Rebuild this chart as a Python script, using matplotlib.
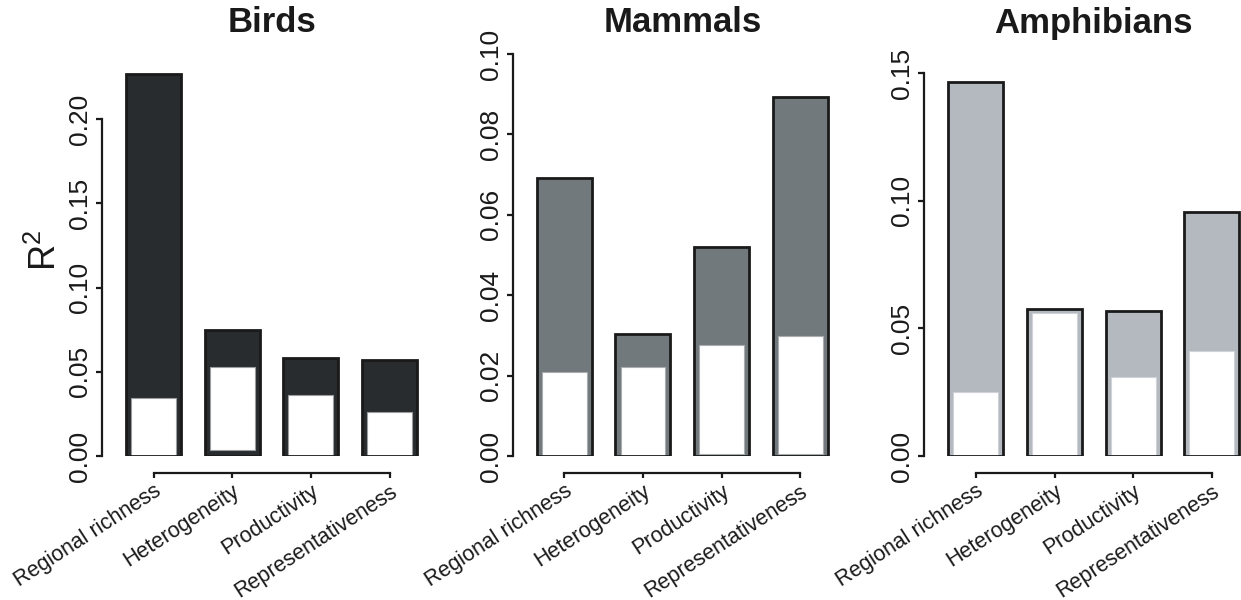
import matplotlib
matplotlib.use('Agg')
import matplotlib.pyplot as plt
from matplotlib.transforms import blended_transform_factory
import numpy as np

plt.rcParams['font.family'] = ['Liberation Sans', 'DejaVu Sans']
plt.rcParams['mathtext.fontset'] = 'custom'
plt.rcParams['mathtext.rm'] = 'Liberation Sans'

# ---- data ----
categories = ['Regional richness', 'Heterogeneity', 'Productivity', 'Representativeness']
titles = ['Birds', 'Mammals', 'Amphibians']

birds_total = [0.227, 0.0745, 0.058, 0.057]
birds_unique = [0.0342, 0.053, 0.0362, 0.0263]
birds_unique_base = [0.0, 0.0035, 0.0, 0.0]

mammals_total = [0.0692, 0.0303, 0.0521, 0.0892]
mammals_unique = [0.021, 0.0222, 0.0276, 0.0299]
mammals_unique_base = [0.0, 0.0, 0.0004, 0.0004]

amphibians_total = [0.1465, 0.0577, 0.057, 0.0958]
amphibians_unique = [0.0252, 0.056, 0.0308, 0.0412]
amphibians_unique_base = [0.0, 0.0, 0.0, 0.0]

birds_yticks = [0.00, 0.05, 0.10, 0.15, 0.20]
mammals_yticks = [0.00, 0.02, 0.04, 0.06, 0.08, 0.10]
amphibians_yticks = [0.00, 0.05, 0.10, 0.15]

# ---- styling ----
fills = ['#282c2f', '#72797c', '#b4b9c0']
inner_edges = ['#9a9c9e', '#a9adaf', '#cfd3d8']
ymaxes = [0.2386, 0.100, 0.1576]
axis_left_px = [102, 512.7, 924.3]
W, H = 1241, 600
ink = '#1a1a1a'

fig = plt.figure(figsize=(W / 100, H / 100), dpi=100)

panels = [
    (birds_total, birds_unique, birds_unique_base, birds_yticks),
    (mammals_total, mammals_unique, mammals_unique_base, mammals_yticks),
    (amphibians_total, amphibians_unique, amphibians_unique_base, amphibians_yticks),
]

for i, (total, uniq, base, yticks) in enumerate(panels):
    ax = fig.add_axes([axis_left_px[i] / W, (H - 456) / H, 319 / W, 402 / H])
    x = np.arange(len(categories))
    total = np.array(total)
    uniq = np.array(uniq)
    base = np.array(base)
    ax.bar(x, total, width=0.70, color=fills[i], edgecolor='none', zorder=1)
    ax.bar(x, uniq - base, bottom=base, width=0.57, color='white',
           edgecolor=inner_edges[i], linewidth=0.8, zorder=2)
    ax.bar(x, total, width=0.70, fill=False, edgecolor=ink, linewidth=2.0,
           zorder=3)

    ax.set_xlim(-0.656, 3.4)
    ax.set_ylim(0, ymaxes[i])

    for s in ['top', 'right']:
        ax.spines[s].set_visible(False)
    ax.spines['left'].set_bounds(0, yticks[-1])
    ax.spines['left'].set_linewidth(1.6)
    ax.spines['left'].set_color(ink)
    ax.spines['bottom'].set_position(('outward', 12.2))
    ax.spines['bottom'].set_bounds(0, 3)
    ax.spines['bottom'].set_linewidth(1.6)
    ax.spines['bottom'].set_color(ink)

    ax.set_yticks(yticks)
    ax.set_yticklabels(['%.2f' % v for v in yticks])
    ax.tick_params(axis='y', length=4.3, width=1.6, color=ink, labelcolor=ink,
                   labelsize=19, pad=3, labelrotation=90)
    for lbl in ax.get_yticklabels():
        lbl.set_va('center')

    ax.set_xticks(x)
    ax.set_xticklabels(categories, rotation=33, ha='right', va='top',
                       rotation_mode='anchor', fontsize=15.5, color=ink)
    ax.tick_params(axis='x', length=3.6, width=1.6, color=ink, pad=2)

    tr = blended_transform_factory(ax.transData, fig.transFigure)
    ax.text(1.5, 1 - 23 / H, titles[i], transform=tr, ha='center', va='center',
            fontsize=25, fontweight='bold', color=ink)

fig.text(46 / W, 1 - 250 / H, r'$\mathrm{R}^2$', rotation=90, ha='center',
         va='center', fontsize=26, color=ink)

fig.savefig('out.png', dpi=100)
